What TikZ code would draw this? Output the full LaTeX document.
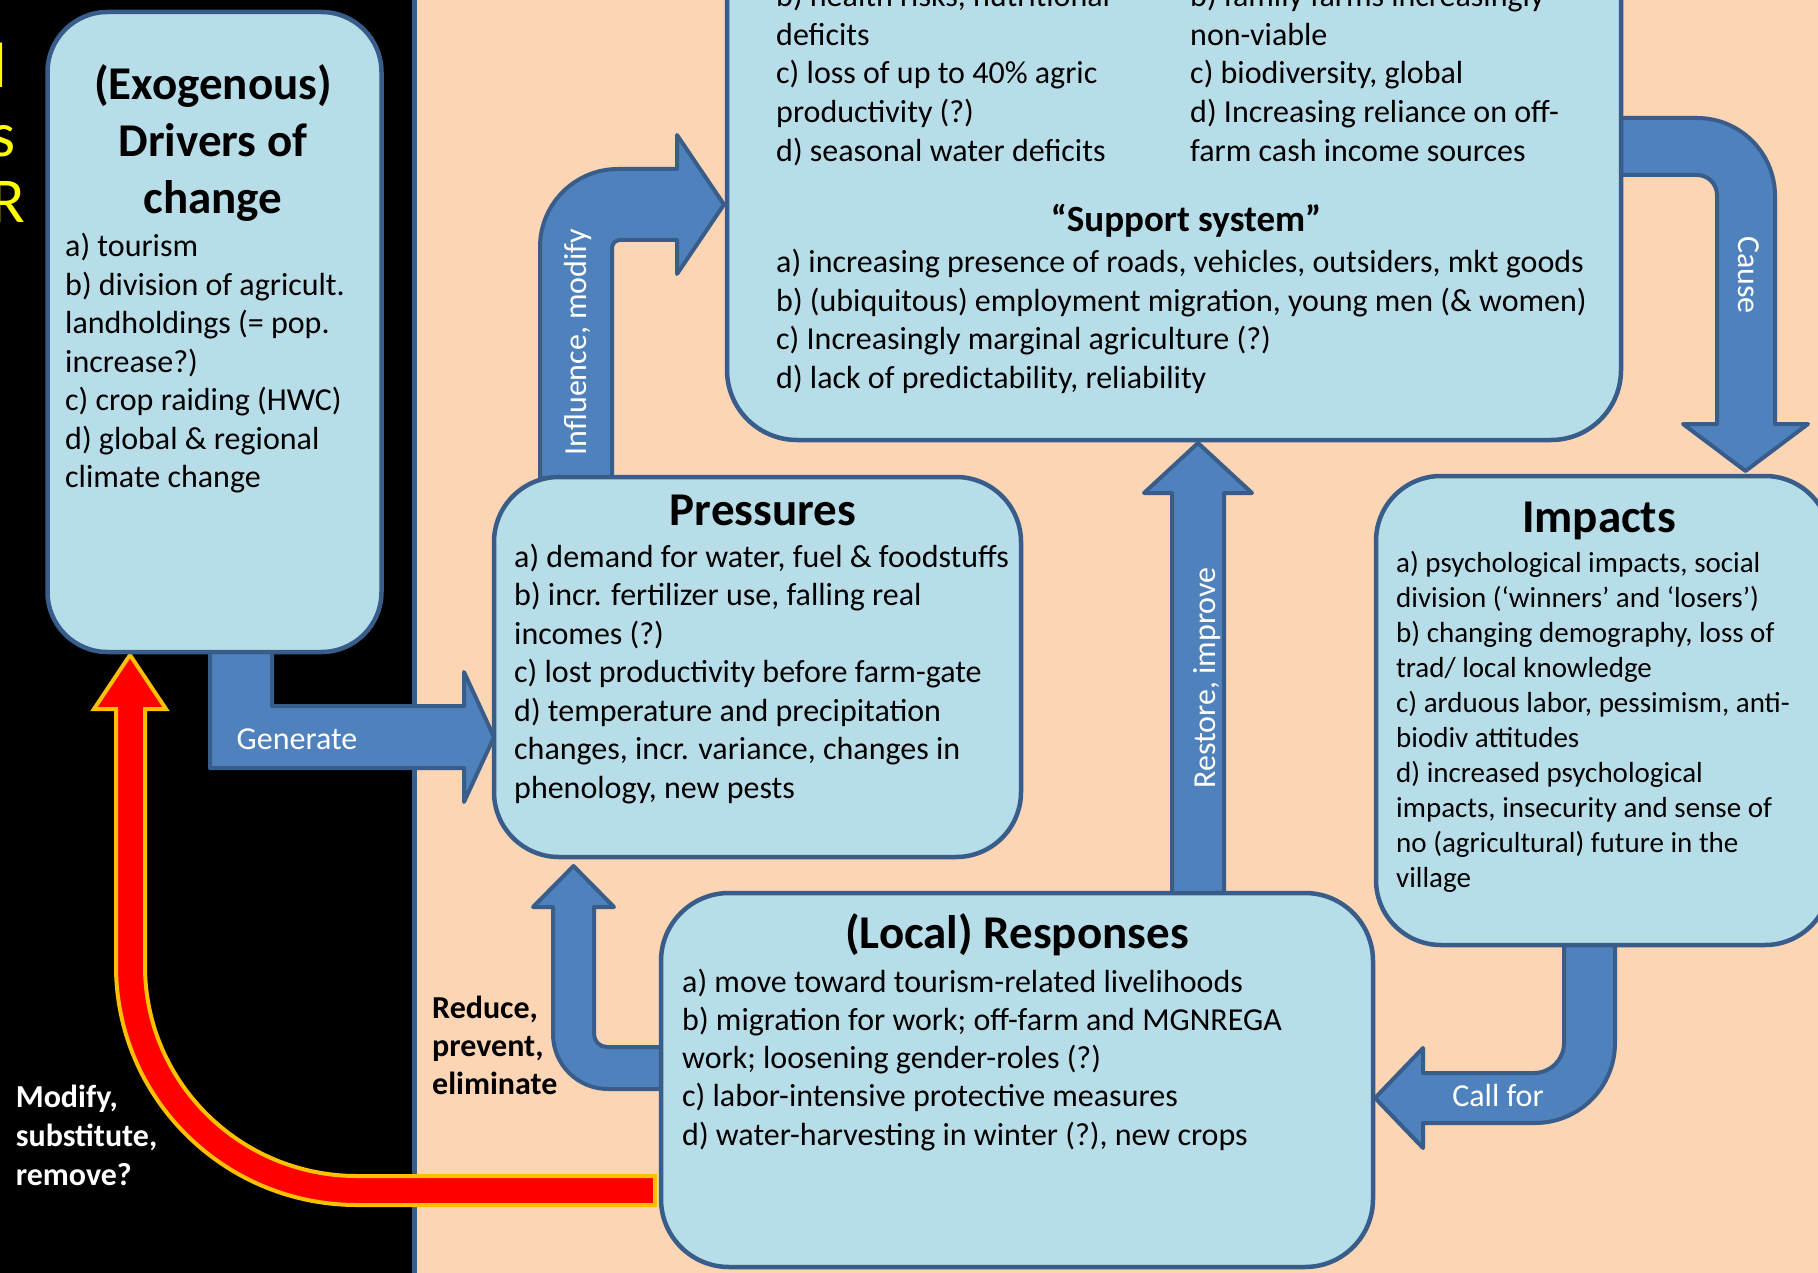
\documentclass[tikz,border=0pt]{standalone}
\usepackage{fontspec}
\setmainfont{Carlito}
\definecolor{peach}{HTML}{FCD5B5}
\definecolor{boxfill}{HTML}{B7DDE8}
\definecolor{edge}{HTML}{385D8A}
\definecolor{arrowfill}{HTML}{4F81BD}
\definecolor{gold}{HTML}{FFC000}
\definecolor{yel}{HTML}{FFFF00}
\begin{document}
\begin{tikzpicture}[x=1pt,y=-1pt,
  box/.style={draw=edge, fill=boxfill, line width=4.5pt, inner sep=0pt},
  barrow/.style={draw=edge, fill=arrowfill, line width=4pt, line join=round},
  redarrow/.style={draw=gold, fill=red, line width=4pt, line join=miter},
  lbl/.style={text=white, inner sep=0pt, anchor=base, font=\fontsize{32}{38}\selectfont},
  txt/.style={inner sep=0pt, anchor=base west},
  ttl/.style={inner sep=0pt, anchor=base}
]
\useasboundingbox (0,0) rectangle (1818,1273);
\fill[black] (0,0) rectangle (1818,1273);
\draw[fill=peach, draw=edge, line width=4.5pt] (414.5,-20) rectangle (1840,1300);

% yellow cut-off letters
\node[inner sep=0pt, anchor=base east, text=yel, font=\fontsize{64}{64}\selectfont] (y1) at (7.3,88) {l};
\node[inner sep=0pt, anchor=base east, text=yel, font=\fontsize{64}{64}\selectfont] (y2) at (15.5,157) {s};
\node[inner sep=0pt, anchor=base east, text=yel, font=\fontsize{64}{64}\selectfont] (y3) at (25,223) {R};

% block arrows
\draw[barrow] (210,648) -- (210,768) -- (464,768) -- (464,802) -- (494,737) -- (464,672) -- (464,706) -- (272,706) -- (272,648) -- cycle;
\draw[barrow] (540,478) -- (540,247) .. controls (540,203.9) and (574.9,169) .. (618,169) -- (677,169) -- (677,135) -- (724,204.5) -- (677,274) -- (677,240) -- (620,240) .. controls (615.6,240) and (612,243.6) .. (612,248) -- (612,478) -- cycle;
\draw[barrow] (1600,118) -- (1697,118) .. controls (1740.1,118) and (1775,152.9) .. (1775,196) -- (1775,424) -- (1808,424) -- (1745.5,471) -- (1683,424) -- (1717,424) -- (1717,195) .. controls (1717,184) and (1708,175) .. (1697,175) -- (1600,175) -- cycle;
\draw[barrow] (1172,897) -- (1172,493) -- (1144,493) -- (1198,443) -- (1252,493) -- (1224,493) -- (1224,897) -- cycle;
\draw[barrow] (1564,938) -- (1564,1043) .. controls (1564,1059.6) and (1550.6,1073) .. (1534,1073) -- (1423,1073) -- (1423,1048) -- (1375,1098) -- (1423,1148) -- (1423,1123) -- (1535,1123) .. controls (1579.2,1123) and (1615,1087.2) .. (1615,1043) -- (1615,938) -- cycle;
\draw[barrow] (667,1047) -- (607,1047) .. controls (599.8,1047) and (594,1041.2) .. (594,1034) -- (594,907) -- (614,907) -- (573.5,866) -- (533,907) -- (553,907) -- (553,1034) .. controls (553,1064.4) and (577.6,1089) .. (608,1089) -- (667,1089) -- cycle;
\draw[redarrow] (655,1176) -- (357,1176) .. controls (240,1176) and (145,1082) .. (145,966) -- (145,709) -- (166,709) -- (130,655) -- (94,709) -- (116,709) -- (116,966) .. controls (116,1098) and (224,1205) .. (357,1205) -- (655,1205) -- cycle;

% arrow labels
\node[lbl] (lgen) at (297,749) {Generate};
\node[lbl, rotate=90] (linf) at (586,342) {Influence, modify};
\node[lbl, rotate=-90] (lcau) at (1738,275) {Cause};
\node[lbl, rotate=90] (lres) at (1215,678) {Restore, improve};
\node[lbl] (lcal) at (1498,1106) {Call for};

% boxes
\node[box, rounded corners=60pt, minimum width=334pt, minimum height=640pt] (drv) at (214.5,332) {};
\node[box, rounded corners=70pt, minimum width=894pt, minimum height=540pt] (sup) at (1174,170) {};
\node[box, rounded corners=65pt, minimum width=527pt, minimum height=380pt] (pre) at (757.5,667) {};
\node[box, rounded corners=65pt, minimum width=454pt, minimum height=469pt] (imp) at (1603,710.5) {};
\node[box, rounded corners=68pt, minimum width=712pt, minimum height=374pt] (res) at (1017,1080) {};

% Drivers
\node[ttl] (drvT) at (213,100) {\parbox[t]{330pt}{\centering\bfseries\fontsize{47}{57}\selectfont (Exogenous)\\ Drivers of\\ change}};
\node[txt] (drvB) at (65,257) {\parbox[t]{320pt}{\raggedright\fontsize{32}{38.5}\selectfont a) tourism\\ b) division of agricult.\\ landholdings (= pop.\\ increase?)\\ c) crop raiding (HWC)\\ d) global \& regional\\ climate change}};

% Support system box
\node[txt] (supL) at (776,6.5) {\parbox[t]{420pt}{\raggedright\fontsize{32}{38.7}\selectfont b) health risks, nutritional\\ deficits\\ c) loss of up to 40\% agric\\ productivity (?)\\ d) seasonal water deficits}};
\node[txt] (supR) at (1190,6.5) {\parbox[t]{420pt}{\raggedright\fontsize{32}{38.7}\selectfont b) family farms increasingly\\ non-viable\\ c) biodiversity, global\\ d) Increasing reliance on off-\\ farm cash income sources}};
\node[ttl] (supT) at (1186,232) {\bfseries\fontsize{37}{44}\selectfont “Support system”};
\node[txt] (supB) at (776,273) {\parbox[t]{880pt}{\raggedright\fontsize{32}{38.5}\selectfont a) increasing presence of roads, vehicles, outsiders, mkt goods\\ b) (ubiquitous) employment migration, young men (\& women)\\ c) Increasingly marginal agriculture (?)\\ d) lack of predictability, reliability}};

% Pressures
\node[ttl] (preT) at (763,525) {\bfseries\fontsize{47}{57}\selectfont Pressures};
\node[txt] (preB) at (514,567) {\parbox[t]{560pt}{\raggedright\fontsize{32}{38.5}\selectfont a) demand for water, fuel \& foodstuffs\\ b) incr. fertilizer use, falling real\\ incomes (?)\\ c) lost productivity before farm-gate\\ d) temperature and precipitation\\ changes, incr. variance, changes in\\ phenology, new pests}};

% Impacts
\node[ttl] (impT) at (1599,532) {\bfseries\fontsize{47}{57}\selectfont Impacts};
\node[txt] (impB) at (1396,572) {\parbox[t]{460pt}{\raggedright\fontsize{29}{35.1}\selectfont a) psychological impacts, social\\ division (‘winners’ and ‘losers’)\\ b) changing demography, loss of\\ trad/ local knowledge\\ c) arduous labor, pessimism, anti-\\ biodiv attitudes\\ d) increased psychological\\ impacts, insecurity and sense of\\ no (agricultural) future in the\\ village}};

% Responses
\node[ttl] (resT) at (1017,948) {\bfseries\fontsize{47}{57}\selectfont (Local) Responses};
\node[txt] (resB) at (682,992) {\parbox[t]{720pt}{\raggedright\fontsize{32}{38.3}\selectfont a) move toward tourism-related livelihoods\\ b) migration for work; off-farm and MGNREGA\\ work; loosening gender-roles (?)\\ c) labor-intensive protective measures\\ d) water-harvesting in winter (?), new crops}};

% side labels
\node[txt, text=white] (lmod) at (15.6,1107) {\parbox[t]{200pt}{\raggedright\bfseries\fontsize{32}{39}\selectfont Modify,\\ substitute,\\ remove?}};
\node[txt] (lred) at (432,1018) {\parbox[t]{200pt}{\raggedright\bfseries\fontsize{32}{38}\selectfont Reduce,\\ prevent,\\ eliminate}};
\end{tikzpicture}
\end{document}
